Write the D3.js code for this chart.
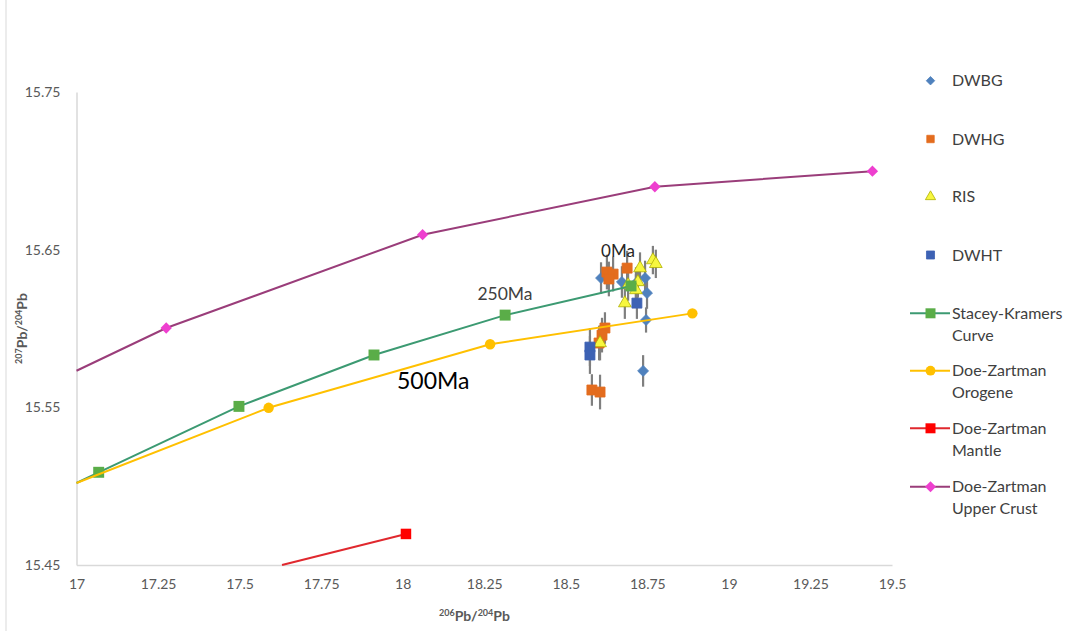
<!DOCTYPE html>
<html>
<head>
<meta charset="utf-8">
<script src="https://cdn.jsdelivr.net/npm/d3@7"></script>
<style>
  html, body { margin: 0; padding: 0; background: #fff; }
  svg { display: block; font-family: Lato, "Open Sans", sans-serif; }
</style>
</head>
<body>
<script>
// ---------- data ----------
const xTicks = [17, 17.25, 17.5, 17.75, 18, 18.25, 18.5, 18.75, 19, 19.25, 19.5];
const xTickLabels = ["17", "17.25", "17.5", "17.75", "18", "18.25", "18.5", "18.75", "19", "19.25", "19.5"];
const yTicks = [15.45, 15.55, 15.65, 15.75];
const yTickLabels = ["15.45", "15.55", "15.65", "15.75"];

// sample series (206Pb/204Pb, 207Pb/204Pb, error on 207Pb/204Pb)
const dwbgX = [18.608, 18.672, 18.715, 18.743, 18.749, 18.746, 18.737];
const dwbgY = [15.632, 15.6295, 15.6288, 15.632, 15.6225, 15.6054, 15.5731];
const dwbgErr = [0.010, 0.010, 0.010, 0.011, 0.010, 0.008, 0.010];

const dwhgX = [18.626, 18.645, 18.632, 18.688, 18.620, 18.611, 18.602, 18.580, 18.605];
const dwhgY = [15.6358, 15.6345, 15.6314, 15.6383, 15.6003, 15.5958, 15.5908, 15.561, 15.5597];
const dwhgErr = [0.011, 0.011, 0.011, 0.011, 0.010, 0.011, 0.011, 0.010, 0.011];

const risX = [18.7275, 18.767, 18.776, 18.691, 18.721, 18.681, 18.715, 18.605];
const risY = [15.6383, 15.6434, 15.641, 15.6276, 15.6295, 15.6161, 15.6244, 15.5908];
const risErr = [0.010, 0.009, 0.009, 0.010, 0.010, 0.010, 0.010, 0.011];

const dwhtX = [18.718, 18.574, 18.574];
const dwhtY = [15.6161, 15.5882, 15.5832];
const dwhtErr = [0.010, 0.012, 0.012];

// reference growth curves (first point of each is where the curve meets the axis, unmarked)
const skX = [17.0, 17.068, 17.498, 17.912, 18.314, 18.70];
const skY = [15.502, 15.5088, 15.5506, 15.5832, 15.6085, 15.627];
const skMarked = [false, true, true, true, true, true];

const orogX = [17.0, 17.589, 18.268, 18.888];
const orogY = [15.502, 15.5497, 15.590, 15.6096];
const orogMarked = [false, true, true, true];

const mantX = [17.63, 18.01];
const mantY = [15.45, 15.4697];
const mantMarked = [false, true];

const ucX = [17.0, 17.275, 18.061, 18.773, 19.44];
const ucY = [15.5732, 15.6003, 15.6595, 15.6899, 15.6998];
const ucMarked = [false, true, true, true, true];

const annotText = ["0Ma", "250Ma", "500Ma"];
const annotX = [18.660, 18.3135, 17.9825];
const annotY = [15.6453, 15.618, 15.5616];

const legendLabels = [["DWBG"], ["DWHG"], ["RIS"], ["DWHT"], ["Stacey-Kramers", "Curve"],
  ["Doe-Zartman", "Orogene"], ["Doe-Zartman", "Mantle"], ["Doe-Zartman", "Upper Crust"]];

// ---------- layout ----------
const W = 1078, H = 631;
const x = d3.scaleLinear().domain([17, 19.5]).range([76.5, 892]);
const y = d3.scaleLinear().domain([15.45, 15.75]).range([565, 92]);

// a diamond = square rotated 45 degrees
const diamond = {
  draw(ctx, size) {
    const r = Math.sqrt(size / 2);
    ctx.moveTo(0, -r); ctx.lineTo(r, 0); ctx.lineTo(0, r); ctx.lineTo(-r, 0); ctx.closePath();
  }
};

const svg = d3.select("body").append("svg").attr("width", W).attr("height", H);
svg.append("rect").attr("width", W).attr("height", H).attr("fill", "#fff");
svg.append("line").attr("x1", 6).attr("x2", 6).attr("y1", 0).attr("y2", H)
  .attr("stroke", "#d9d9d9").attr("stroke-width", 1);

// axes
const axisColor = "#d9d9d9", textColor = "#595959";
const xAxis = svg.append("g").attr("transform", `translate(0,${y(15.45)})`)
  .call(d3.axisBottom(x).tickValues(xTicks).tickSize(0).tickPadding(14)
    .tickFormat((d, i) => xTickLabels[i]));
const yAxis = svg.append("g").attr("transform", `translate(${x(17)},0)`)
  .call(d3.axisLeft(y).tickValues(yTicks).tickSize(0).tickPadding(16)
    .tickFormat((d, i) => yTickLabels[i]));
[xAxis, yAxis].forEach(g => {
  g.select(".domain").attr("stroke", axisColor).attr("stroke-width", 1.5);
  g.selectAll("text").attr("fill", textColor).attr("font-size", 14)
    .attr("font-family", "Lato, sans-serif");
});

// axis titles
const xt = svg.append("text").attr("x", x(18.22)).attr("y", 621)
  .attr("text-anchor", "middle").attr("fill", textColor)
  .attr("font-size", 14).attr("font-weight", "bold");
xt.append("tspan").attr("font-size", 9).attr("dy", -5).text("206");
xt.append("tspan").attr("dy", 5).text("Pb/");
xt.append("tspan").attr("font-size", 9).attr("dy", -5).text("204");
xt.append("tspan").attr("dy", 5).text("Pb");

const yt = svg.append("text").attr("transform", `translate(27,${y(15.6)}) rotate(-90)`)
  .attr("text-anchor", "middle").attr("fill", textColor)
  .attr("font-size", 14).attr("font-weight", "bold");
yt.append("tspan").attr("font-size", 9).attr("dy", -5).text("207");
yt.append("tspan").attr("dy", 5).text("Pb/");
yt.append("tspan").attr("font-size", 9).attr("dy", -5).text("204");
yt.append("tspan").attr("dy", 5).text("Pb");

// ---------- sample series ----------
const samples = [
  { xs: dwbgX, ys: dwbgY, es: dwbgErr, sym: diamond, size: 60, fill: "#4f81bd", stroke: "#4f81bd" },
  { xs: dwhgX, ys: dwhgY, es: dwhgErr, sym: d3.symbolSquare, size: 100, fill: "#e36c1e", stroke: "#e36c1e" },
  { xs: risX, ys: risY, es: risErr, sym: d3.symbolTriangle, size: 70, fill: "#f7f73e", stroke: "#b0b000" },
  { xs: dwhtX, ys: dwhtY, es: dwhtErr, sym: d3.symbolSquare, size: 100, fill: "#3d62b4", stroke: "#3d62b4" }
];

const gErr = svg.append("g");
samples.forEach(s => {
  s.xs.forEach((xv, i) => {
    gErr.append("line")
      .attr("x1", x(xv)).attr("x2", x(xv))
      .attr("y1", y(s.ys[i] - s.es[i])).attr("y2", y(s.ys[i] + s.es[i]))
      .attr("stroke", "#7f7f7f").attr("stroke-width", 2.2);
  });
});
samples.forEach(s => {
  svg.append("g").selectAll("path").data(s.xs.map((xv, i) => [xv, s.ys[i]]))
    .join("path")
    .attr("transform", d => `translate(${x(d[0])},${y(d[1])})`)
    .attr("d", d3.symbol().type(s.sym).size(s.size))
    .attr("fill", s.fill).attr("stroke", s.stroke).attr("stroke-width", 0.8);
});

// ---------- curves ----------
const curves = [
  { xs: skX, ys: skY, mk: skMarked, line: "#3c9a72", mfill: "#5aad48", sym: d3.symbolSquare, size: 120 },
  { xs: orogX, ys: orogY, mk: orogMarked, line: "#ffc000", mfill: "#ffc000", sym: d3.symbolCircle, size: 85 },
  { xs: mantX, ys: mantY, mk: mantMarked, line: "#e0282e", mfill: "#ff0000", sym: d3.symbolSquare, size: 110 },
  { xs: ucX, ys: ucY, mk: ucMarked, line: "#9a3d7a", mfill: "#ee3fcf", sym: diamond, size: 64 }
];
const lineGen = d3.line().x(d => x(d[0])).y(d => y(d[1]));
curves.forEach(c => {
  const pts = c.xs.map((xv, i) => [xv, c.ys[i]]);
  svg.append("path").datum(pts).attr("d", lineGen)
    .attr("fill", "none").attr("stroke", c.line).attr("stroke-width", 2);
  svg.append("g").selectAll("path").data(pts.filter((d, i) => c.mk[i]))
    .join("path")
    .attr("transform", d => `translate(${x(d[0])},${y(d[1])})`)
    .attr("d", d3.symbol().type(c.sym).size(c.size))
    .attr("fill", c.mfill);
});

// ---------- annotations ----------
const annotSize = [17, 17.5, 23];
const annotColor = ["#262626", "#404040", "#000000"];
const annotAnchor = ["middle", "middle", "start"];
annotText.forEach((t, i) => {
  svg.append("text").attr("x", x(annotX[i])).attr("y", y(annotY[i]))
    .attr("text-anchor", annotAnchor[i]).attr("font-size", annotSize[i])
    .attr("fill", annotColor[i]).text(t);
});

// ---------- legend ----------
const legY = [80.7, 139, 196.7, 255, 313.3, 370.7, 428.3, 486.7];
const legMarkers = [
  { sym: diamond, size: 36, fill: "#4f81bd", stroke: "#4f81bd" },
  { sym: d3.symbolSquare, size: 55, fill: "#e36c1e", stroke: "#e36c1e" },
  { sym: d3.symbolTriangle, size: 45, fill: "#f7f73e", stroke: "#b0b000" },
  { sym: d3.symbolSquare, size: 65, fill: "#3d62b4", stroke: "#3d62b4" },
  { sym: d3.symbolSquare, size: 100, fill: "#5aad48", line: "#3c9a72" },
  { sym: d3.symbolCircle, size: 75, fill: "#ffc000", line: "#ffc000" },
  { sym: d3.symbolSquare, size: 100, fill: "#ff0000", line: "#e0282e" },
  { sym: diamond, size: 60, fill: "#ee3fcf", line: "#9a3d7a" }
];
const leg = svg.append("g");
legendLabels.forEach((lab, i) => {
  const m = legMarkers[i];
  const cy = legY[i];
  if (m.line) {
    leg.append("line").attr("x1", 910).attr("x2", 950).attr("y1", cy).attr("y2", cy)
      .attr("stroke", m.line).attr("stroke-width", 2);
  }
  leg.append("path").attr("transform", `translate(930.5,${cy})`)
    .attr("d", d3.symbol().type(m.sym).size(m.size))
    .attr("fill", m.fill).attr("stroke", m.stroke || "none").attr("stroke-width", 0.8);
  lab.forEach((t, j) => {
    leg.append("text").attr("x", 952).attr("y", cy + 5.5 + j * 21.7)
      .attr("font-size", 16).attr("fill", "#404040").text(t);
  });
});
</script>
</body>
</html>
